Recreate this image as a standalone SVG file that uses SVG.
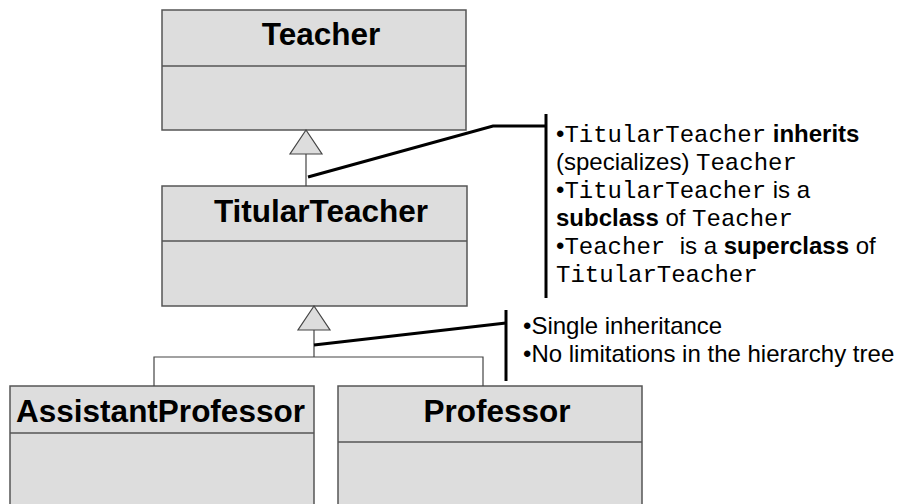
<svg xmlns="http://www.w3.org/2000/svg" width="899" height="504" viewBox="0 0 899 504">
  <style>
    .box { fill: #dddddd; stroke: #555555; stroke-width: 1.5; }
    .div { stroke: #555555; stroke-width: 1.5; }
    .title { font-family: "Liberation Sans", Arial, sans-serif; font-weight: bold; font-size: 31.5px; fill: #000; text-anchor: middle; }
    .link { fill: none; stroke: #444444; stroke-width: 1.2; }
    .tri { fill: #dddddd; stroke: #444444; stroke-width: 1.2; }
    .note { fill: none; stroke: #000; stroke-width: 3; }
    .txt { font-family: "Liberation Sans", Arial, sans-serif; font-size: 24px; fill: #000; }
    .mono { font-family: "Liberation Mono", "Courier New", monospace; }
    .b { font-weight: bold; }
  </style>

  <!-- classes -->
  <g id="teacher">
    <rect class="box" x="162" y="10" width="304" height="120"/>
    <line class="div" x1="162" y1="66" x2="466" y2="66"/>
    <text class="title" x="321" y="45">Teacher</text>
  </g>

  <g id="titular-teacher">
    <rect class="box" x="162" y="186" width="305" height="120"/>
    <line class="div" x1="162" y1="241" x2="467" y2="241"/>
    <text class="title" x="321" y="222">TitularTeacher</text>
  </g>

  <g id="assistant-professor">
    <rect class="box" x="10" y="386" width="304" height="140"/>
    <line class="div" x1="10" y1="433" x2="314" y2="433"/>
    <text class="title" x="160.5" y="422">AssistantProfessor</text>
  </g>

  <g id="professor">
    <rect class="box" x="338" y="386" width="304" height="140"/>
    <line class="div" x1="338" y1="442" x2="642" y2="442"/>
    <text class="title" x="497" y="422">Professor</text>
  </g>

  <!-- generalization connectors -->
  <g id="connectors">
    <line class="link" x1="306" y1="154" x2="306" y2="186"/>
    <polygon class="tri" points="306,130 290,154 322,154"/>

    <polyline class="link" points="154,386 154,357 483,357 483,386"/>
    <line class="link" x1="314" y1="330" x2="314" y2="357"/>
    <polygon class="tri" points="314,306 298,330 330,330"/>
  </g>

  <!-- annotation callouts -->
  <g id="note-inheritance">
    <polyline class="note" points="308,177 493,126 546,126"/>
    <line class="note" x1="546" y1="114" x2="546" y2="298"/>
    <text class="txt" x="556" y="142">•<tspan class="mono">TitularTeacher</tspan> <tspan class="b">inherits</tspan></text>
    <text class="txt" x="556" y="170">(specializes) <tspan class="mono">Teacher</tspan></text>
    <text class="txt" x="556" y="198">•<tspan class="mono">TitularTeacher</tspan> is a</text>
    <text class="txt" x="556" y="226"><tspan class="b">subclass</tspan> of <tspan class="mono">Teacher</tspan></text>
    <text class="txt" x="556" y="254">•<tspan class="mono">Teacher </tspan> is a <tspan class="b">superclass</tspan> of</text>
    <text class="txt" x="556" y="282"><tspan class="mono">TitularTeacher</tspan></text>
  </g>

  <g id="note-single">
    <line class="note" x1="314" y1="345" x2="506" y2="323"/>
    <line class="note" x1="506" y1="310" x2="506" y2="381"/>
    <text class="txt" x="523" y="334">•Single inheritance</text>
    <text class="txt" x="523" y="362">•No limitations in the hierarchy tree</text>
  </g>
</svg>
